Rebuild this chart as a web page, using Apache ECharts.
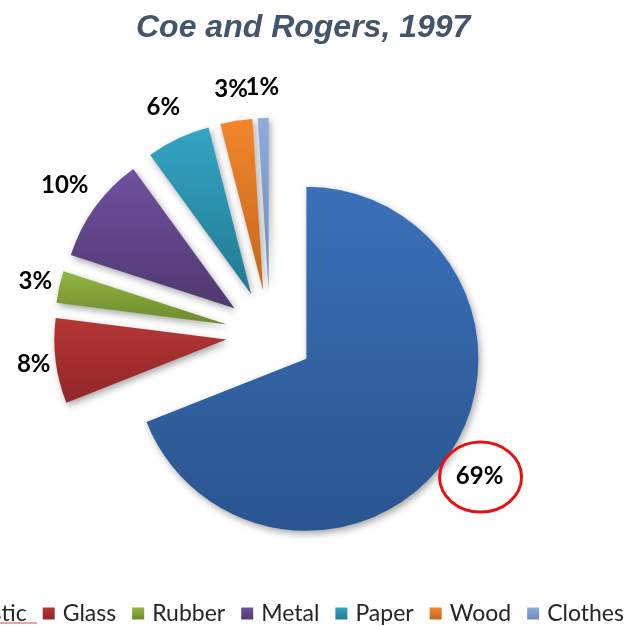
<!DOCTYPE html>
<html>
<head>
<meta charset="utf-8">
<title>Coe and Rogers, 1997</title>
<script src="https://cdn.jsdelivr.net/npm/echarts@6/dist/echarts.min.js"></script>
<style>
  html, body { margin: 0; padding: 0; background: #ffffff; }
  #chart { width: 628px; height: 626px; }
</style>
</head>
<body>
<div id="chart"></div>
<script>
// Waste composition shares (percent)
const categories = ['Plastic', 'Glass', 'Rubber', 'Metal', 'Paper', 'Wood', 'Clothes'];
const shares = [69, 8, 3, 10, 6, 3, 1];
const topColors = ['#3b70b8', '#b43636', '#91b541', '#7050a0', '#33a5c3', '#f2862c', '#8eabdc'];
const bottomColors = ['#2a5590', '#922627', '#6c8a2c', '#50386f', '#227a92', '#c4661b', '#6d8bbe'];

// Pie geometry
const CX = 270, CY = 334, R = 172, OFFSET = 44;

const total = shares.reduce((a, b) => a + b, 0);

// Unit vector along the bisector of slice i (clockwise from 12 o'clock)
function bisector(i) {
  let acc = 0;
  for (let k = 0; k < i; k++) acc += shares[k];
  const theta = (acc + shares[i] / 2) / total * Math.PI * 2;
  return [Math.sin(theta), -Math.cos(theta)];
}

// Outside-end label centre: just beyond the exploded slice along its bisector
function labelCentre(i, w, h) {
  const d = bisector(i);
  const gap = 2 + 16 * Math.abs(d[1]);
  const dist = R + OFFSET + gap + Math.abs(d[0]) * w / 2 + Math.abs(d[1]) * h / 2;
  return [CX + d[0] * dist, CY + d[1] * dist];
}

const chart = echarts.init(document.getElementById('chart'), null, { renderer: 'canvas' });

// Exploded slices
const pieData = categories.map((name, i) => ({
  name: name,
  value: shares[i],
  selected: true,
  itemStyle: {
    color: new echarts.graphic.LinearGradient(0, 0, 0, 1, [
      { offset: 0, color: topColors[i] },
      { offset: 1, color: bottomColors[i] }
    ])
  }
}));

// Same shares again, carrying only the percentage labels
const labelData = categories.map((name, i) => ({ name: name, value: shares[i] }));

// Highlight ring around the largest share's label
const PLASTIC_LABEL = labelCentre(0, 47, 29);

chart.setOption({
  animation: false,
  title: {
    text: 'Coe and Rogers, 1997',
    left: 131,
    top: 7,
    textStyle: {
      fontFamily: 'Liberation Sans',
      fontStyle: 'italic',
      fontWeight: 'bold',
      fontSize: 32,
      color: '#44546a'
    }
  },
  legend: {
    left: -64,
    top: 597,
    width: 1000,
    icon: 'rect',
    itemWidth: 12,
    itemHeight: 12,
    itemGap: 16,
    data: categories,
    textStyle: {
      fontFamily: 'Lato',
      fontSize: 23,
      color: '#262626',
      padding: [0, 0, 0, 3]
    }
  },
  series: [
    {
      type: 'pie',
      center: [CX, CY],
      radius: R,
      startAngle: 90,
      clockwise: true,
      selectedMode: 'multiple',
      selectedOffset: OFFSET,
      itemStyle: {
        shadowBlur: 7,
        shadowColor: 'rgba(0,0,0,0.35)',
        shadowOffsetX: 2,
        shadowOffsetY: 3
      },
      emphasis: { disabled: true },
      label: { show: false },
      labelLine: { show: false },
      data: pieData
    },
    {
      type: 'pie',
      center: [CX, CY],
      radius: R,
      startAngle: 90,
      clockwise: true,
      silent: true,
      selectedMode: false,
      avoidLabelOverlap: false,
      itemStyle: { color: 'rgba(0,0,0,0)' },
      emphasis: { disabled: true },
      label: {
        show: true,
        position: 'outside',
        formatter: '{c}%',
        fontFamily: 'Lato',
        fontWeight: 'bold',
        fontSize: 24,
        color: '#000000'
      },
      labelLine: { show: false },
      labelLayout: function (params) {
        const c = labelCentre(params.dataIndex, params.labelRect.width, params.labelRect.height);
        return { x: c[0], y: c[1], align: 'center', verticalAlign: 'middle' };
      },
      data: labelData
    }
  ],
  graphic: [
    {
      type: 'ellipse',
      shape: { cx: PLASTIC_LABEL[0], cy: PLASTIC_LABEL[1], rx: 41, ry: 35 },
      style: { fill: 'none', stroke: '#e81010', lineWidth: 3 },
      z: 10
    },
    {
      type: 'line',
      shape: { x1: 0, y1: 623, x2: 37, y2: 623 },
      style: { stroke: '#f0a0a0', lineWidth: 2 }
    }
  ]
});
</script>
</body>
</html>
